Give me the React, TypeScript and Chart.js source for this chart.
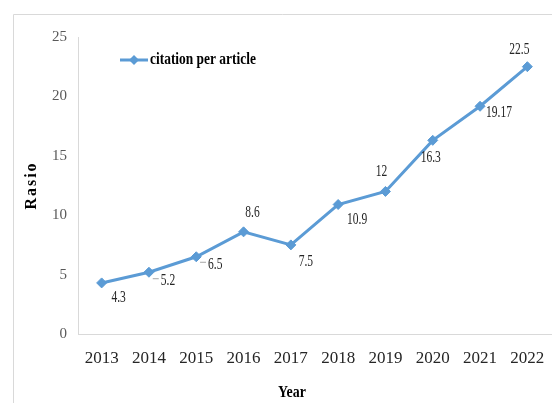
import React, { useEffect, useRef } from "react";
import { Chart, registerables } from "chart.js";

Chart.register(...registerables);

const years = ["2013", "2014", "2015", "2016", "2017", "2018", "2019", "2020", "2021", "2022"];
const citationPerArticle = [4.3, 5.2, 6.5, 8.6, 7.5, 10.9, 12, 16.3, 19.17, 22.5];
const seriesName = "citation per article";
const yTitle = "Rasio";
const xTitle = "Year";
const yMin = 0;
const yMax = 25;
const yStep = 5;

// label placement (style): offset from point, and whether a small leader dash is drawn
const labelPlacement = [
  { dx: 17, dy: 15, leader: false },
  { dx: 19, dy: 9, leader: true },
  { dx: 19, dy: 8, leader: true },
  { dx: 9, dy: -19, leader: false },
  { dx: 15, dy: 17, leader: false },
  { dx: 19, dy: 15, leader: false },
  { dx: -4, dy: -20, leader: false },
  { dx: -2, dy: 17, leader: false },
  { dx: 19, dy: 7, leader: false },
  { dx: -8, dy: -17, leader: false },
];

const BLUE = "#5B9BD5";
const SERIF = "'Liberation Serif', 'Times New Roman', serif";

function squishText(ctx: CanvasRenderingContext2D, text: string, x: number, y: number, sx: number, align: CanvasTextAlign = "center") {
  ctx.save();
  ctx.translate(x, y);
  ctx.scale(sx, 1);
  ctx.textAlign = align;
  ctx.textBaseline = "middle";
  ctx.fillText(text, 0, 0);
  ctx.restore();
}

const decorPlugin = {
  id: "decor",
  beforeDraw(chart: any) {
    const ctx = chart.ctx as CanvasRenderingContext2D;
    ctx.save();
    ctx.strokeStyle = "#d9d9d9";
    ctx.lineWidth = 1;
    ctx.beginPath();
    ctx.moveTo(13.5, chart.height);
    ctx.lineTo(13.5, 14.5);
    ctx.lineTo(chart.width, 14.5);
    ctx.stroke();
    ctx.restore();
  },
  afterDraw(chart: any) {
    const ctx = chart.ctx as CanvasRenderingContext2D;
    const meta = chart.getDatasetMeta(0);
    const ds = chart.data.datasets[0];
    ctx.save();
    // data labels
    ctx.font = `16px ${SERIF}`;
    meta.data.forEach((pt: any, i: number) => {
      const p = labelPlacement[i];
      const text = String(ds.data[i]);
      const cx = pt.x + p.dx;
      const cy = pt.y + p.dy;
      ctx.fillStyle = "#262626";
      squishText(ctx, text, cx, cy, 0.72);
      if (p.leader) {
        const w = ctx.measureText(text).width * 0.72;
        const left = cx - w / 2;
        ctx.strokeStyle = "#a6a6a6";
        ctx.lineWidth = 1;
        ctx.beginPath();
        ctx.moveTo(left - 8, cy - 2.5);
        ctx.lineTo(left - 2, cy - 2.5);
        ctx.stroke();
      }
    });

    // legend
    const ly = 60;
    ctx.strokeStyle = BLUE;
    ctx.lineWidth = 3;
    ctx.beginPath();
    ctx.moveTo(120, ly);
    ctx.lineTo(148, ly);
    ctx.stroke();
    ctx.fillStyle = BLUE;
    ctx.beginPath();
    ctx.moveTo(134, ly - 5);
    ctx.lineTo(139, ly);
    ctx.lineTo(134, ly + 5);
    ctx.lineTo(129, ly);
    ctx.closePath();
    ctx.fill();
    ctx.fillStyle = "#000000";
    ctx.font = `bold 17px ${SERIF}`;
    squishText(ctx, seriesName, 150, ly, 0.79, "left");

    // axis titles
    ctx.font = `bold 17px ${SERIF}`;
    ctx.fillStyle = "#000000";
    squishText(ctx, xTitle, 292, 393, 0.82);
    const ca = chart.chartArea;
    ctx.save();
    ctx.translate(32, (ca.top + ca.bottom) / 2);
    ctx.rotate(-Math.PI / 2);
    ctx.textAlign = "center";
    ctx.textBaseline = "middle";
    ctx.font = `bold 16px ${SERIF}`;
    (ctx as any).letterSpacing = "2px";
    ctx.fillText(yTitle, 0, 0);
    ctx.restore();
    ctx.restore();
  },
};

export default function App() {
  const ref = useRef<HTMLCanvasElement | null>(null);
  useEffect(() => {
    if (!ref.current) return;
    const chart = new Chart(ref.current, {
      type: "line",
      data: {
        labels: years,
        datasets: [
          {
            label: seriesName,
            data: citationPerArticle,
            borderColor: BLUE,
            backgroundColor: BLUE,
            borderWidth: 3,
            pointStyle: "rectRot",
            pointRadius: 5,
            pointBackgroundColor: BLUE,
            pointBorderColor: BLUE,
            pointBorderWidth: 1,
            tension: 0,
            clip: false,
          },
        ],
      },
      options: {
        animation: false,
        responsive: true,
        maintainAspectRatio: false,
        layout: { autoPadding: false, padding: { top: 37, right: 1, left: 0, bottom: 0 } },
        plugins: { legend: { display: false }, tooltip: { enabled: false } },
        scales: {
          x: {
            offset: true,
            grid: { display: false, drawTicks: false },
            border: { display: true, color: "#d9d9d9", width: 1 },
            ticks: {
              color: "#262626",
              padding: 4,
              maxRotation: 0,
              autoSkip: false,
              font: { family: SERIF, size: 17, lineHeight: 2.47 },
            },
            afterFit: (s: any) => {
              s.height = 69;
            },
          },
          y: {
            min: yMin,
            max: yMax,
            grid: { display: false, drawTicks: false },
            border: { display: true, color: "#d9d9d9", width: 1 },
            ticks: {
              stepSize: yStep,
              color: "#595959",
              padding: 11,
              font: { family: SERIF, size: 15 },
            },
            afterFit: (s: any) => {
              s.width = 78;
            },
          },
        },
      },
      plugins: [decorPlugin],
    });
    return () => chart.destroy();
  }, []);
  return (
    <div style={{ position: "absolute", left: 0, top: 0, width: 552, height: 403, background: "#fff" }}>
      <canvas ref={ref} />
    </div>
  );
}
